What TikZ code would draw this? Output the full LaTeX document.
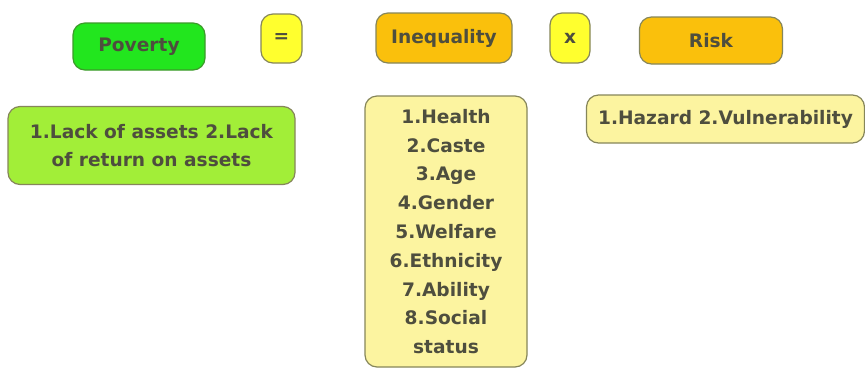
\documentclass[tikz,border=0pt]{standalone}
\usepackage{fontspec}
\setmainfont{DejaVu Sans}
\definecolor{txt}{HTML}{4E4E3E}
\definecolor{brd}{HTML}{86865A}
\definecolor{pgreen}{HTML}{22E61E}
\definecolor{pgreenb}{HTML}{3C9A2A}
\definecolor{lgreen}{HTML}{A2EE38}
\definecolor{yel}{HTML}{FFFF2E}
\definecolor{orn}{HTML}{FAC00C}
\definecolor{lyel}{HTML}{FCF4A0}
\tikzset{
  box/.style={draw=brd, line width=1.2pt, rounded corners=12pt, align=center,
    inner sep=0pt, text=txt, font=\fontsize{18.6}{28.8}\selectfont\bfseries},
}
\begin{document}
\begin{tikzpicture}[x=1pt,y=-1pt]
\useasboundingbox[fill=white] (0,0) rectangle (865,368);
\node[box, fill=pgreen, draw=pgreenb, minimum width=132pt, minimum height=47pt] (pov) at (139,46.5) {Poverty};
\node[box, fill=yel, minimum width=41pt, minimum height=49pt] (eq) at (281.5,38.5) {=};
\node[box, fill=orn, minimum width=136pt, minimum height=50pt] (ineq) at (444,38) {Inequality};
\node[box, fill=yel, minimum width=40pt, minimum height=50pt] (times) at (570,38) {x};
\node[box, fill=orn, minimum width=143pt, minimum height=47pt] (risk) at (711,40.5) {Risk};
\node[box, fill=lgreen, minimum width=287pt, minimum height=78pt] (lack) at (151.5,145.5) {1.Lack of assets 2.Lack\\of return on assets};
\node[box, fill=lyel, minimum width=162pt, minimum height=271pt] (list) at (446,231.5) {1.Health\\2.Caste\\3.Age\\4.Gender\\5.Welfare\\6.Ethnicity\\7.Ability\\8.Social\\status};
\node[box, fill=lyel, minimum width=278pt, minimum height=48pt] (haz) at (725.5,119) {1.Hazard 2.Vulnerability};
\end{tikzpicture}
\end{document}
